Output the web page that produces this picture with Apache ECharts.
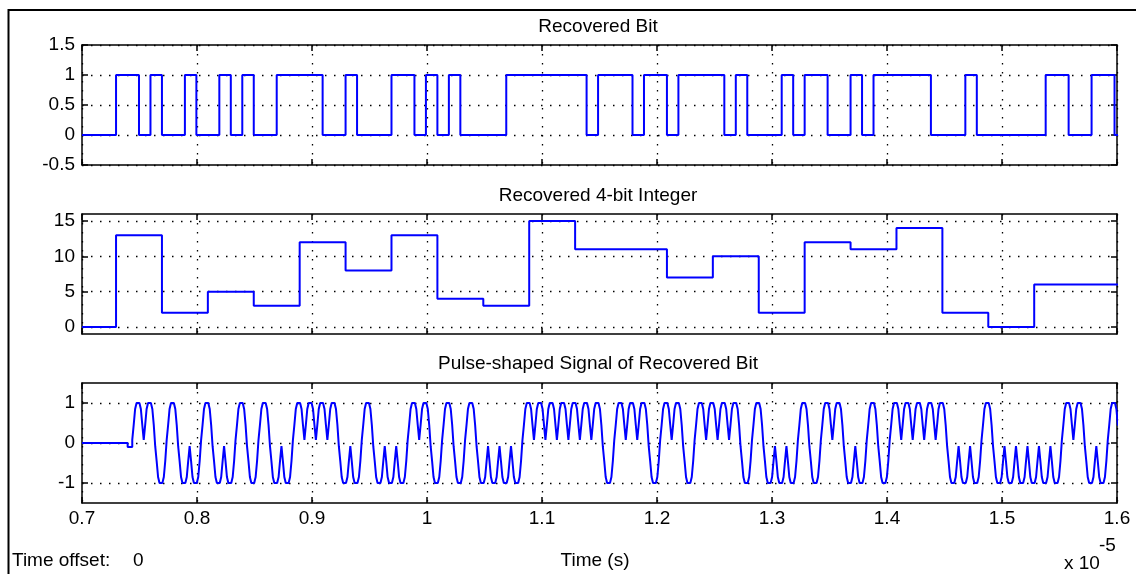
<!DOCTYPE html>
<html><head><meta charset="utf-8">
<script src="https://cdn.jsdelivr.net/npm/echarts@6/dist/echarts.min.js"></script>
<style>html,body{margin:0;padding:0;background:#fff}#c{width:1136px;height:574px}</style>
</head><body><div id="c"></div>
<script>
// ---- data ----
const panelTitles = ['Recovered Bit', 'Recovered 4-bit Integer', 'Pulse-shaped Signal of Recovered Bit'];
// recovered bits, one per bit period (MSB first of each 4-bit integer)
const bitValues = [
  1,1,0,1, 0,0,1,0, 0,1,0,1, 0,0,1,1, 1,1,0,0, 1,0,0,0, 1,1,0,1, 0,1,0,0,
  0,0,1,1, 1,1,1,1, 1,0,1,1, 1,0,1,1, 0,1,1,1, 1,0,1,0, 0,0,1,0, 1,1,0,0,
  1,0,1,1, 1,1,1,0, 0,0,1,0, 0,0,0,0, 0,1,1,0, 0,1,1,0
];
// recovered 4-bit integers, one per 4 bit periods
const intValues = [13,2,5,3,12,8,13,4,3,15,11,11,7,10,2,12,11,14,2,0,6,6];
// levels of one pulse-shaped symbol (8 held samples per bit)
const pulseShape = [0.08, 0.45, 0.85, 1, 1, 1, 0.85, 0.45];
// pulse-shaped signal before the first symbol [time, level]
const pulseLeadIn = [[0.7, 0], [0.7397, -0.1]];
const xTickValues = [0.7, 0.8, 0.9, 1, 1.1, 1.2, 1.3, 1.4, 1.5, 1.6];
const yTickValues = [[-0.5, 0, 0.5, 1, 1.5], [0, 5, 10, 15], [-1, 0, 1]];
const yLimits = [[-0.5, 1.5], [-1, 16], [-1.5, 1.5]];
const timeLimits = [0.7, 1.6];            // x 1e-5 s
const bitStart = 0.7296, bitPeriod = 0.00998, pulseStart = 0.7437;

// ---- build series data ----
const endT = 1.62;
const bitData = [[timeLimits[0], 0]];
bitValues.forEach((b, i) => bitData.push([bitStart + i * bitPeriod, b]));
bitData.push([endT, bitValues[bitValues.length - 1]]);

const intData = [[timeLimits[0], 0]];
intValues.forEach((v, k) => intData.push([bitStart + 4 * k * bitPeriod, v]));
intData.push([endT, intValues[intValues.length - 1]]);

const pulseData = pulseLeadIn.map(p => p.slice());
for (let k = 0; k < bitValues.length && pulseStart + k * bitPeriod < timeLimits[1]; k++) {
  const s = bitValues[k] ? 1 : -1;
  pulseShape.forEach((lv, j) => {
    pulseData.push([pulseStart + k * bitPeriod + j * bitPeriod / pulseShape.length, s * lv]);
  });
}
pulseData.push([endT, pulseData[pulseData.length - 1][1]]);

const seriesData = [bitData, intData, pulseData];

// ---- layout ----
const FONT = "'Liberation Sans', Arial, sans-serif";
const grids = [
  {left: 82, top: 45, width: 1035, height: 120},
  {left: 82, top: 214, width: 1035, height: 120},
  {left: 82, top: 383, width: 1035, height: 120}
];
const axisLine = {show: true, onZero: false, lineStyle: {color: '#000', width: 1.5}};
const dotted = {show: true, lineStyle: {color: '#000', width: 1.3, type: [1.5, 7.5]}};
const tick = {show: true, inside: true, length: 6, lineStyle: {color: '#000', width: 1.5}};
const fmt = v => String(Number(v));

const xAxis = [], yAxis = [], series = [];
grids.forEach((g, i) => {
  xAxis.push({
    type: 'value', gridIndex: i, position: 'bottom', min: timeLimits[0], max: timeLimits[1],
    axisLine, axisTick: Object.assign({customValues: xTickValues}, tick),
    axisLabel: {show: i === 2, customValues: xTickValues, formatter: fmt, color: '#000',
      fontFamily: FONT, fontSize: 19, margin: 6},
    splitLine: dotted
  });
  xAxis.push({
    type: 'value', gridIndex: i, position: 'top', min: timeLimits[0], max: timeLimits[1],
    axisLine, axisTick: Object.assign({customValues: xTickValues}, tick),
    axisLabel: {show: false}, splitLine: {show: false}
  });
  yAxis.push({
    type: 'value', gridIndex: i, position: 'left', min: yLimits[i][0], max: yLimits[i][1],
    axisLine, axisTick: Object.assign({customValues: yTickValues[i]}, tick),
    axisLabel: {show: true, customValues: yTickValues[i], formatter: fmt, color: '#000',
      fontFamily: FONT, fontSize: 19, margin: 7},
    splitLine: dotted
  });
  yAxis.push({
    type: 'value', gridIndex: i, position: 'right', min: yLimits[i][0], max: yLimits[i][1],
    axisLine, axisTick: Object.assign({customValues: yTickValues[i]}, tick),
    axisLabel: {show: false}, splitLine: {show: false}
  });
  series.push({
    type: 'line', xAxisIndex: 2 * i, yAxisIndex: 2 * i, step: 'end',
    data: seriesData[i], showSymbol: false, symbol: 'none', clip: true,
    lineStyle: {color: '#0000ff', width: 2}, z: 1
  });
});

const txt = (x, y, text, align, size) => ({
  type: 'text', x, y, z: 10,
  style: {text, fill: '#000', font: (size || 19) + 'px ' + FONT,
    textAlign: align || 'center', textVerticalAlign: 'middle'}
});

const chart = echarts.init(document.getElementById('c'), null, {renderer: 'canvas'});
chart.setOption({
  animation: false,
  backgroundColor: '#fff',
  grid: grids.map(g => Object.assign({containLabel: false}, g)),
  xAxis, yAxis, series,
  graphic: [
    {type: 'rect', shape: {x: 8.5, y: 10, width: 1200, height: 700},
      style: {fill: 'none', stroke: '#000', lineWidth: 2}, z: 0},
    txt(598, 27, panelTitles[0]),
    txt(598, 196, panelTitles[1]),
    txt(598, 364, panelTitles[2]),
    txt(12, 561, 'Time offset:', 'left'),
    txt(133, 561, '0', 'left'),
    txt(595, 561, 'Time (s)'),
    txt(1064, 564, 'x 10', 'left'),
    txt(1099, 546, '-5', 'left')
  ]
});
</script></body></html>
